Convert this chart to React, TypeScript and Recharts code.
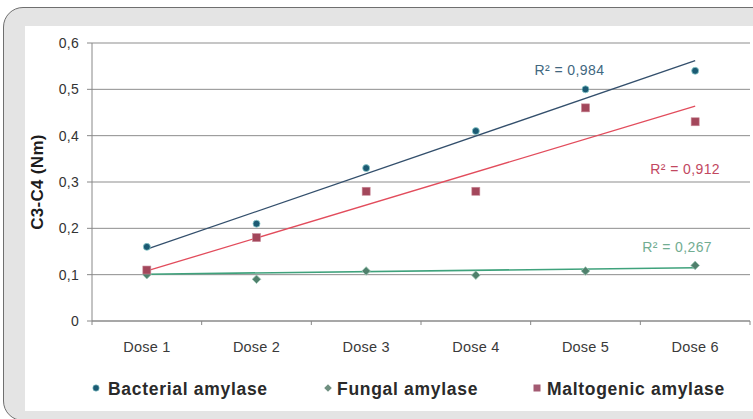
import {
  ComposedChart,
  Line,
  XAxis,
  YAxis,
  CartesianGrid,
  ReferenceDot,
} from "recharts";

const doses = ["Dose 1", "Dose 2", "Dose 3", "Dose 4", "Dose 5", "Dose 6"];
const bacterial = [0.16, 0.21, 0.33, 0.41, 0.5, 0.54];
const fungal = [0.1, 0.09, 0.108, 0.099, 0.108, 0.12];
const maltogenic = [0.11, 0.18, 0.28, 0.28, 0.46, 0.43];
// trendlines (start / end only)
const bacterialTrend = [0.155, null, null, null, null, 0.562];
const fungalTrend = [0.101, null, null, null, null, 0.115];
const maltogenicTrend = [0.108, null, null, null, null, 0.464];
const yTicks = [0, 0.1, 0.2, 0.3, 0.4, 0.5, 0.6];
const r2Labels = [
  { text: "R² = 0,984", dose: "Dose 5", y: 0.542, dx: -16, color: "#41677f" },
  { text: "R² = 0,912", dose: "Dose 6", y: 0.328, dx: -10, color: "#c2485f" },
  { text: "R² = 0,267", dose: "Dose 6", y: 0.16, dx: -18, color: "#72ad92" },
];

const data = doses.map((dose, i) => ({
  dose,
  bacterial: bacterial[i],
  fungal: fungal[i],
  maltogenic: maltogenic[i],
  bacterialTrend: bacterialTrend[i],
  fungalTrend: fungalTrend[i],
  maltogenicTrend: maltogenicTrend[i],
}));

const FONT = '"Liberation Sans", Arial, sans-serif';
const CHART_W = 728;
const CHART_H = 385;
const Y_AXIS_W = 67;
const MARGIN = { top: 17, right: 3, left: 0, bottom: 0 };
const PLOT_W = CHART_W - Y_AXIS_W - MARGIN.left - MARGIN.right;
const HALF_BAND = PLOT_W / doses.length / 2;

const BLUE_DOT = "#1b5a73";
const GREEN_DOT = "#4f806c";
const RED_DOT = "#a3475b";

function CircleDot(props: any) {
  const { cx, cy, index } = props;
  if (cx == null || cy == null) return <g key={index} />;
  return (
    <circle key={index} cx={cx} cy={cy} r={3.5} fill={BLUE_DOT} stroke="#8ccbcb" strokeWidth={0.8} />
  );
}

function DiamondDot(props: any) {
  const { cx, cy, index } = props;
  if (cx == null || cy == null) return <g key={index} />;
  const s = 4.3;
  return (
    <path
      key={index}
      d={`M${cx},${cy - s}L${cx + s},${cy}L${cx},${cy + s}L${cx - s},${cy}Z`}
      fill={GREEN_DOT}
      stroke="#9cc6b4"
      strokeWidth={0.8}
    />
  );
}

function SquareDot(props: any) {
  const { cx, cy, index } = props;
  if (cx == null || cy == null) return <g key={index} />;
  return (
    <rect key={index} x={cx - 4} y={cy - 4} width={8} height={8} fill={RED_DOT} stroke="#c98a98" strokeWidth={0.6} />
  );
}

function DoseTick(props: any) {
  const { x, y, payload, index } = props;
  return (
    <g>
      <text
        x={x}
        y={y + 31}
        textAnchor="middle"
        fill="#3a3a3a"
        fontSize={14.5}
        letterSpacing={0.2}
        fontFamily={FONT}
      >
        {payload.value}
      </text>
      <line x1={x - HALF_BAND} x2={x - HALF_BAND} y1={y} y2={y + 4} stroke="#888" />
      {index === doses.length - 1 && (
        <line x1={x + HALF_BAND} x2={x + HALF_BAND} y1={y} y2={y + 4} stroke="#888" />
      )}
    </g>
  );
}

const legendItems = [
  { name: "Bacterial amylase", icon: "circle", cx: 96, tx: 108 },
  { name: "Fungal amylase", icon: "diamond", cx: 328, tx: 337 },
  { name: "Maltogenic amylase", icon: "square", cx: 537, tx: 547 },
];

function LegendIcon({ icon, cx, cy }: { icon: string; cx: number; cy: number }) {
  if (icon === "circle") return <circle cx={cx} cy={cy} r={3.2} fill={BLUE_DOT} stroke="#8ccbcb" strokeWidth={0.6} />;
  if (icon === "diamond") {
    const s = 3.8;
    return (
      <path d={`M${cx},${cy - s}L${cx + s},${cy}L${cx},${cy + s}L${cx - s},${cy}Z`} fill="#6f8f80" />
    );
  }
  return <rect x={cx - 3.5} y={cy - 3.5} width={7} height={7} fill="#a35a72" />;
}

export default function App() {
  return (
    <div
      style={{
        position: "absolute",
        left: 0,
        top: 0,
        width: 753,
        height: 419,
        overflow: "hidden",
        background: "#fff",
        fontFamily: FONT,
      }}
    >
      <div
        style={{
          position: "absolute",
          left: 3,
          top: 7,
          width: 800,
          height: 412,
          border: "1px solid #6f6f6f",
          borderRadius: 20,
          background: "#e4e4e4",
        }}
      />
      <div
        style={{
          position: "absolute",
          left: 25,
          top: 26,
          width: 740,
          height: 385,
          background: "#fff",
        }}
      />
      <div style={{ position: "absolute", left: 25, top: 26 }}>
        <ComposedChart width={CHART_W} height={CHART_H} data={data} margin={MARGIN}>
          <CartesianGrid vertical={false} stroke="#8d8d8d" strokeWidth={1} />
          <XAxis
            dataKey="dose"
            interval={0}
            height={CHART_H - MARGIN.top - 278}
            padding={{ left: HALF_BAND, right: HALF_BAND }}
            axisLine={{ stroke: "#888" }}
            tickLine={false}
            tickSize={0}
            tickMargin={0}
            tick={<DoseTick />}
          />
          <YAxis
            width={Y_AXIS_W}
            domain={[0, 0.6]}
            ticks={yTicks}
            interval={0}
            axisLine={{ stroke: "#888" }}
            tickLine={{ stroke: "#888" }}
            tickSize={5}
            tickMargin={8}
            tick={{ fill: "#333", fontSize: 14, fontFamily: FONT, letterSpacing: 0.3 }}
            tickFormatter={(v: number) => (v === 0 ? "0" : v.toFixed(1).replace(".", ","))}
            label={{
              value: "C3-C4 (Nm)",
              angle: -90,
              position: "insideLeft",
              dx: 7,
              style: {
                textAnchor: "middle",
                fontWeight: "bold",
                fontSize: 17,
                letterSpacing: 0.3,
                fill: "#1c1c1c",
                fontFamily: FONT,
              },
            }}
          />
          <Line dataKey="bacterialTrend" connectNulls stroke="#334f6c" strokeWidth={1.3} dot={false} activeDot={false} isAnimationActive={false} />
          <Line dataKey="maltogenicTrend" connectNulls stroke="#e24c5c" strokeWidth={1.3} dot={false} activeDot={false} isAnimationActive={false} />
          <Line dataKey="fungalTrend" connectNulls stroke="#3fa27c" strokeWidth={1.6} dot={false} activeDot={false} isAnimationActive={false} />
          <Line dataKey="bacterial" stroke="none" dot={<CircleDot />} activeDot={false} isAnimationActive={false} />
          <Line dataKey="fungal" stroke="none" dot={<DiamondDot />} activeDot={false} isAnimationActive={false} />
          <Line dataKey="maltogenic" stroke="none" dot={<SquareDot />} activeDot={false} isAnimationActive={false} />
          {r2Labels.map((l) => (
            <ReferenceDot
              key={l.text}
              x={l.dose}
              y={l.y}
              r={0}
              fill="none"
              stroke="none"
              label={{
                value: l.text,
                position: "center",
                dx: l.dx,
                fill: l.color,
                fontSize: 14,
                letterSpacing: 0.4,
                fontFamily: FONT,
              }}
            />
          ))}
        </ComposedChart>
      </div>
      <svg
        width={753}
        height={419}
        style={{ position: "absolute", left: 0, top: 0, pointerEvents: "none" }}
      >
        {legendItems.map((it) => (
          <g key={it.name}>
            <LegendIcon icon={it.icon} cx={it.cx} cy={388} />
            <text
              x={it.tx}
              y={395}
              fontFamily={FONT}
              fontWeight="bold"
              fontSize={17.5}
              letterSpacing={0.7}
              fill="#2a2a2a"
            >
              {it.name}
            </text>
          </g>
        ))}
      </svg>
    </div>
  );
}
